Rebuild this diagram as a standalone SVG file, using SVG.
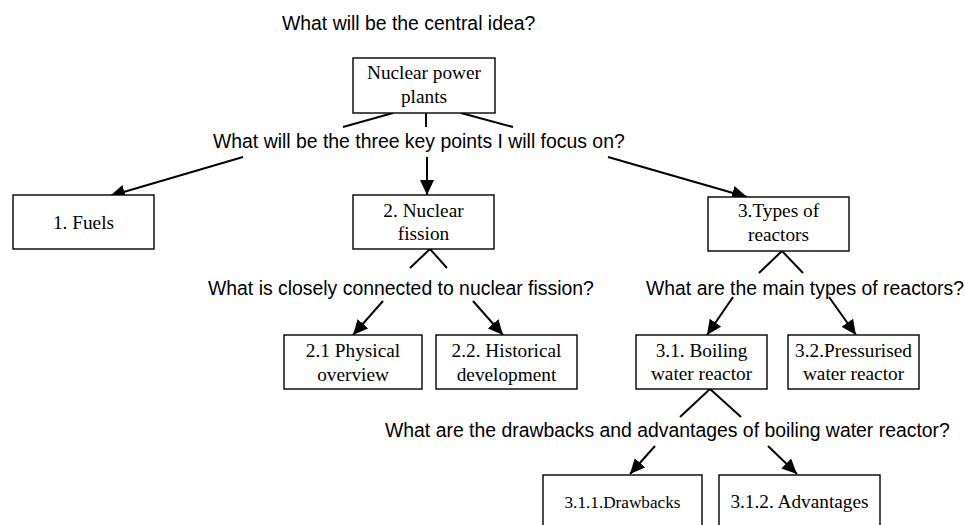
<svg xmlns="http://www.w3.org/2000/svg" width="965" height="525" viewBox="0 0 965 525">
<style>
.box{fill:#fff;stroke:#000;stroke-width:1.4}
.t{font-family:"Liberation Serif","Times New Roman",serif;font-size:19.3px;fill:#000;text-anchor:middle}
.ts{font-size:17.2px}
.q{font-family:"Liberation Sans",Arial,sans-serif;font-size:19.4px;fill:#000}
.ln{stroke:#000;stroke-width:2;fill:none}
.ar{stroke:#000;stroke-width:2;fill:none;marker-end:url(#ah)}
</style>
<defs>
<marker id="ah" markerUnits="userSpaceOnUse" markerWidth="16" markerHeight="14" refX="15" refY="7" orient="auto">
<path d="M0,0 L15,7 L0,14 z" fill="#000"/>
</marker>
</defs>
<g id="questions">
<text class="q" x="282" y="30">What will be the central idea?</text>
<text class="q" x="213" y="148">What will be the three key points I will focus on?</text>
<text class="q" x="208" y="295">What is closely connected to nuclear fission?</text>
<text class="q" x="646" y="295">What are the main types of reactors?</text>
<text class="q" x="385" y="437">What are the drawbacks and advantages of boiling water reactor?</text>
</g>
<g id="connectors">
<line class="ln" x1="393" y1="113" x2="343" y2="127"/>
<line class="ln" x1="426" y1="113" x2="426" y2="127"/>
<line class="ln" x1="461" y1="113" x2="513" y2="127"/>
<line class="ar" x1="243" y1="157" x2="110" y2="196"/>
<line class="ar" x1="427" y1="157" x2="427" y2="195"/>
<line class="ar" x1="608" y1="157" x2="747" y2="197"/>
<line class="ln" x1="430" y1="249" x2="410" y2="268"/>
<line class="ln" x1="430" y1="249" x2="447" y2="268"/>
<line class="ar" x1="383" y1="301" x2="353" y2="335"/>
<line class="ar" x1="473" y1="301" x2="503" y2="335"/>
<line class="ln" x1="782" y1="251" x2="759" y2="273"/>
<line class="ln" x1="782" y1="251" x2="803" y2="273"/>
<line class="ar" x1="733" y1="297" x2="707" y2="335"/>
<line class="ar" x1="829" y1="297" x2="856" y2="335"/>
<line class="ln" x1="710" y1="389" x2="680" y2="417"/>
<line class="ln" x1="710" y1="389" x2="741" y2="417"/>
<line class="ar" x1="655" y1="446" x2="630" y2="474"/>
<line class="ar" x1="768" y1="446" x2="797" y2="474"/>
</g>
<g id="n0">
<rect class="box" x="353" y="58" width="142" height="55"/>
<text class="t" x="424" y="79">Nuclear power</text>
<text class="t" x="424" y="103">plants</text>
</g>
<g id="n1">
<rect class="box" x="13" y="195" width="141" height="54"/>
<text class="t" x="83.5" y="229">1. Fuels</text>
</g>
<g id="n2">
<rect class="box" x="353" y="195" width="141" height="54"/>
<text class="t" x="423.5" y="217">2. Nuclear</text>
<text class="t" x="423.5" y="240">fission</text>
</g>
<g id="n3">
<rect class="box" x="708" y="197" width="141" height="54"/>
<text class="t" x="778.5" y="217">3.Types of</text>
<text class="t" x="778.5" y="241">reactors</text>
</g>
<g id="n21">
<rect class="box" x="284" y="335" width="138" height="54"/>
<text class="t" x="353" y="357">2.1 Physical</text>
<text class="t" x="353" y="381">overview</text>
</g>
<g id="n22">
<rect class="box" x="436" y="335" width="141" height="54"/>
<text class="t" x="506.5" y="357">2.2. Historical</text>
<text class="t" x="506.5" y="381">development</text>
</g>
<g id="n31">
<rect class="box" x="636" y="335" width="131" height="54"/>
<text class="t" x="701.5" y="357">3.1. Boiling</text>
<text class="t" x="701.5" y="380">water reactor</text>
</g>
<g id="n32">
<rect class="box" x="788" y="335" width="131" height="54"/>
<text class="t" x="853.5" y="357">3.2.Pressurised</text>
<text class="t" x="853.5" y="380">water reactor</text>
</g>
<g id="n311">
<rect class="box" x="543" y="475" width="159" height="60"/>
<text class="t ts" x="622.5" y="508">3.1.1.Drawbacks</text>
</g>
<g id="n312">
<rect class="box" x="719" y="475" width="161" height="60"/>
<text class="t" x="799.5" y="508">3.1.2. Advantages</text>
</g>
</svg>
